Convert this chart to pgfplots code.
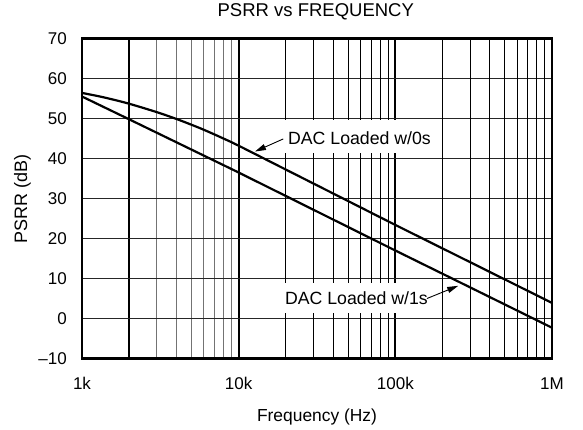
\documentclass[border=0pt]{standalone}
\usepackage{fontspec}
\setmainfont{Liberation Sans}
\usepackage{pgfplots}
\pgfplotsset{compat=1.18}
\usetikzlibrary{arrows.meta}
\newcommand{\f}{\fontsize{17bp}{20bp}\selectfont}
\newcommand{\fa}{\fontsize{17.7bp}{21bp}\selectfont}
\begin{document}
\begin{tikzpicture}
\begin{axis}[
  scale only axis, width=470bp, height=320bp,
  xmode=log, xmin=1000, xmax=1000000, ymin=-10, ymax=70,
  xtick={1000,2000,10000,100000,1000000},
  xticklabels={1k,,10k,100k,1M},
  minor xtick={3000,4000,5000,6000,7000,8000,9000},
  extra x ticks={20000,30000,40000,50000,60000,70000,80000,90000,200000,300000,400000,500000,600000,700000,800000,900000},
  extra x tick labels={},
  extra x tick style={xmajorgrids=true, major x grid style={black, line width=0.9bp}},
  ytick={-10,0,10,20,30,40,50,60,70},
  yticklabels={\textendash10,0,10,20,30,40,50,60,70},
  xmajorgrids=true, xminorgrids=true, ymajorgrids=true,
  major x grid style={black, line width=1.8bp},
  minor x grid style={black!55, line width=0.9bp},
  major y grid style={black!85, line width=0.9bp},
  major tick length=0pt, minor tick length=0pt,
  axis line style={black, line width=2.2bp},
  yticklabel style={anchor=east, inner sep=0pt, xshift=-15bp, font=\f},
  xticklabel style={anchor=base, inner sep=0pt, yshift=-31bp, font=\f},
  ylabel={PSRR (dB)},
  ylabel style={at={(axis description cs:-0.117,0.5)}, anchor=base, font=\fontsize{18bp}{21bp}\selectfont},
  xlabel={Frequency (Hz)},
  xlabel style={at={(axis description cs:0.5,-0.1969)}, anchor=base, font=\fontsize{17.4bp}{21bp}\selectfont},
  title={PSRR vs FREQUENCY},
  title style={at={(axis description cs:0.4974,1.051)}, anchor=base, font=\fontsize{18.5bp}{22bp}\selectfont},
]
% DAC Loaded w/0s
\addplot[black, line width=2.2bp, smooth] coordinates {
(1000,56.4) (1250,55.65) (1500,54.95) (2000,53.7) (3000,51.6) (4000,49.9)
(5000,48.44) (6000,47.18) (8000,45.0) (10000,43.2) (20000,37.24) (50000,29.36)
(100000,23.4) (200000,17.53) (500000,9.77) (1000000,3.9)};
% DAC Loaded w/1s
\addplot[black, line width=2.2bp] coordinates {
(1000,55.5) (2000,49.8) (10000,36.5) (100000,17.0) (1000000,-2.3)};

\node[fill=white, inner xsep=3bp, inner ysep=9bp, text height=15bp, text depth=0pt,
      anchor=base west, font=\fa] at (axis cs:19748,43.575) {DAC Loaded w/0s};
\node[fill=white, inner xsep=3bp, inner ysep=9bp, text height=12bp, text depth=0pt,
      anchor=base west, font=\fa] at (axis cs:18889,3.575) {DAC Loaded w/1s};
\draw[-{Triangle[length=11bp,width=6bp]}, line width=0.9bp]
  (axis cs:19262,44.9) -- (axis cs:12706,41.75);
\draw[-{Triangle[length=11bp,width=6bp]}, line width=0.9bp]
  (axis cs:159100,5.0) -- (axis cs:252000,8.175);

\coordinate (bbsw) at ([xshift=-82bp,yshift=-71bp]rel axis cs:0,0);
\coordinate (bbne) at ([xshift=31bp,yshift=37bp]rel axis cs:1,1);
\end{axis}
\path (bbsw) rectangle (bbne);
\end{tikzpicture}
\end{document}
